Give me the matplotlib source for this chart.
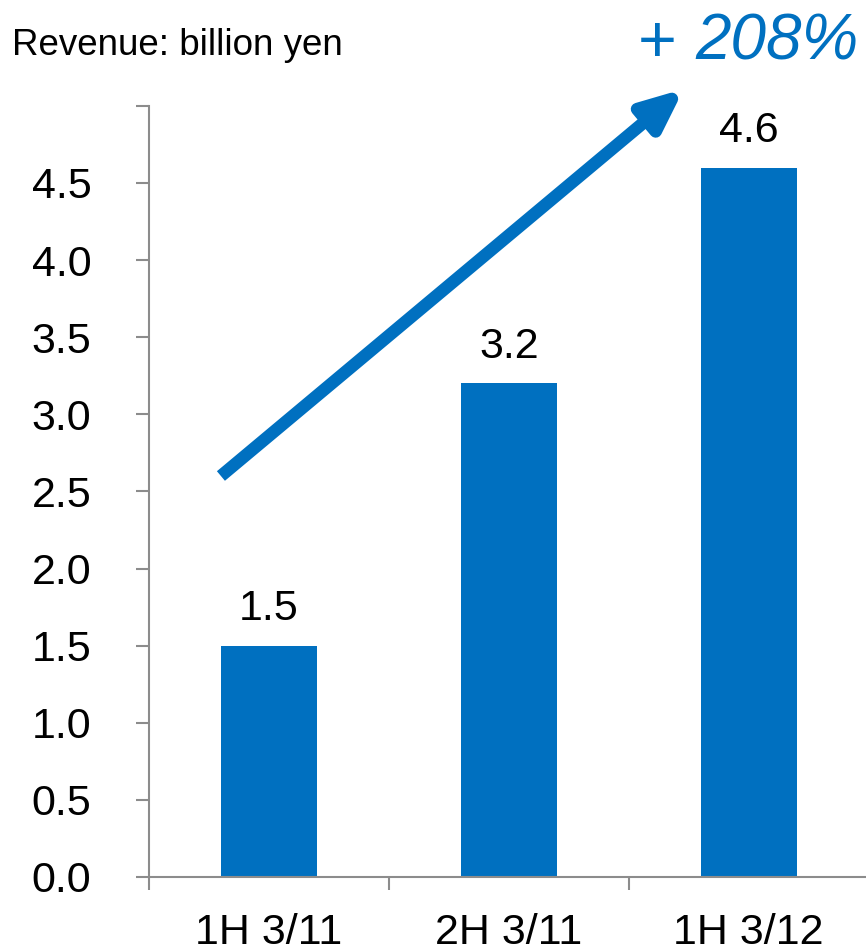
import matplotlib
matplotlib.use("Agg")
import matplotlib.pyplot as plt
import numpy as np

# data
periods = ["1H 3/11", "2H 3/11", "1H 3/12"]
revenue = [1.5, 3.2, 4.6]
value_labels = ["1.5", "3.2", "4.6"]
growth_label = "208%"

blue = "#0070C0"
gray = "#8c8c8c"
plt.rcParams['font.family'] = ['Liberation Sans', 'DejaVu Sans']

fig = plt.figure(figsize=(8.66, 9.52), dpi=100)
ax = fig.add_axes([0.172, 0.0788, 0.831, 0.81])

x = np.arange(len(periods))
bars = ax.bar(x, revenue, width=0.4, color=blue, zorder=2)

for xi, v, lab in zip(x, revenue, value_labels):
    ax.annotate(lab, (xi, v), xytext=(0, 12), textcoords="offset points",
                ha="center", va="bottom", fontsize=31)

yt = np.arange(0, 5.01, 0.5)
ax.set_xlim(-0.5, 2.5)
ax.set_ylim(0, 5)
ax.set_yticks(yt)
# top tick (5.0) has no label in the original
ax.set_yticklabels([f"{t:.1f}" if t < 5 else "" for t in yt])
ax.set_xticks(x)
ax.set_xticklabels(periods)
ax.set_xticks(np.arange(-0.5, 2.6, 1), minor=True)

for s in ["top", "right"]:
    ax.spines[s].set_visible(False)
for s in ["left", "bottom"]:
    ax.spines[s].set_color(gray)
    ax.spines[s].set_linewidth(1.5)

ax.tick_params(axis="y", direction="out", length=9.4, width=1.5, color=gray,
               labelsize=31, pad=32)
ax.tick_params(axis="x", which="major", length=0, labelsize=31, pad=26)
ax.tick_params(axis="x", which="minor", direction="out", length=9.4, width=1.5,
               color=gray)

# growth arrow
ax.annotate("", xy=(1.73, 5.11), xytext=(-0.2, 2.6), annotation_clip=False,
            arrowprops=dict(arrowstyle="-|>,head_length=2.4,head_width=1.05",
                            color=blue, lw=9, shrinkA=0, shrinkB=0,
                            capstyle="butt"))

fig.text(0.014, 0.952, "Revenue: billion yen", fontsize=26.5, ha="left", va="center")
fig.text(0.737, 0.953, "+", fontsize=48, color=blue, ha="left", va="center")
fig.text(0.992, 0.955, growth_label, fontsize=46, color=blue, style="italic",
         ha="right", va="center")

fig.savefig("out.png", dpi=100)
